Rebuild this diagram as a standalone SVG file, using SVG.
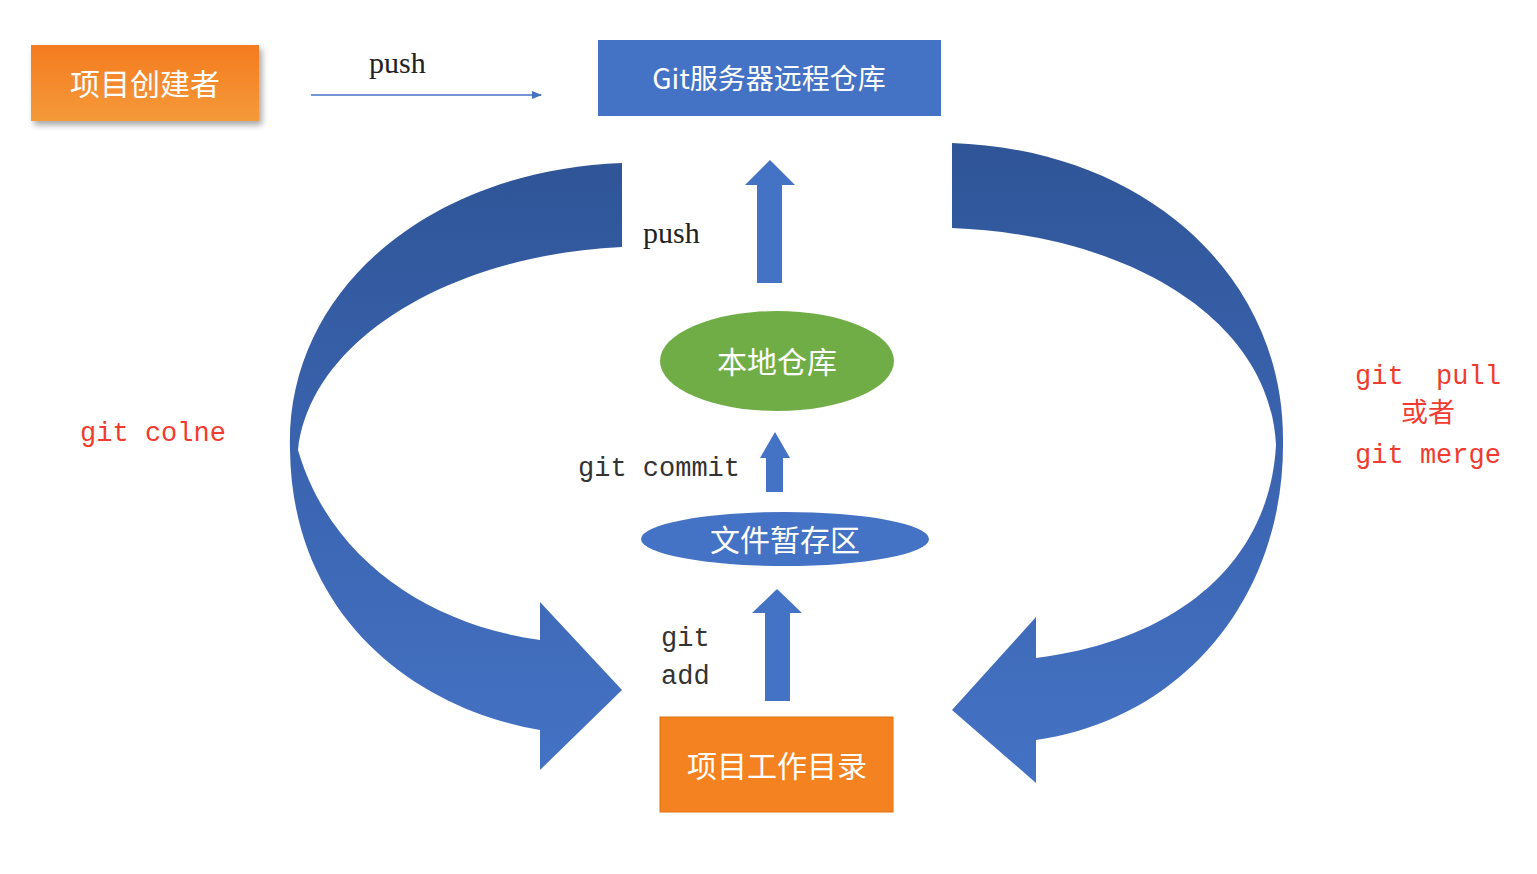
<svg xmlns="http://www.w3.org/2000/svg" width="1537" height="874" viewBox="0 0 1537 874">
<defs>
<linearGradient id="band" x1="0" y1="0" x2="0" y2="1"><stop offset="0" stop-color="#2F5597"/><stop offset="0.45" stop-color="#3A63AE"/><stop offset="1" stop-color="#4472C4"/></linearGradient>
<linearGradient id="org" x1="0" y1="0" x2="0" y2="1"><stop offset="0" stop-color="#F47B20"/><stop offset="1" stop-color="#F59A3A"/></linearGradient>
<filter id="sh" x="-10%" y="-10%" width="130%" height="140%"><feDropShadow dx="3" dy="4" stdDeviation="3" flood-color="#000" flood-opacity="0.35"/></filter>
<marker id="ah" markerWidth="10" markerHeight="8" refX="9" refY="4" orient="auto" markerUnits="userSpaceOnUse"><path d="M0,0 L10,4 L0,8 Z" fill="#4472C4"/></marker>
</defs>
<style>
.cn{font-family:"Noto Sans CJK SC","Noto Sans",sans-serif;fill:#fff;font-size:30px;text-anchor:middle}
.sf{font-family:"Liberation Serif",serif;font-size:30px;fill:#222}
.mono{font-family:"Liberation Mono",monospace;font-size:27px;fill:#333}
.red{font-family:"Liberation Mono","Noto Sans CJK SC",monospace;font-size:27px;fill:#F03C30;text-anchor:middle}
.up{fill:#4472C4}
</style>
<rect width="1537" height="874" fill="#fff"/>
<g id="connectors">
<path d="M311,95 L541,95" stroke="#4472C4" stroke-width="1.5" marker-end="url(#ah)"/>
<path id="leftArc" fill="url(#band)" d="M622,163 L622,247 C450,255 310,340 298,450 C330,560 430,625 540,640 L540,602 L622,690 L540,770 L540,730 C420,710 292,620 290,450 C285,290 430,170 622,163 Z"/>
<path id="rightArc" fill="url(#band)" d="M952,143 C1150,150 1284,280 1283,440 C1285,600 1180,720 1036,740 L1036,783 L952,710 L1036,617 L1036,658 C1180,640 1270,560 1276,445 C1270,320 1130,235 952,228 Z"/>
<path class="up" d="M757,283 L757,185 L745,185 L770,160 L795,185 L782,185 L782,283 Z"/>
<path class="up" d="M766,492 L766,458 L760,458 L775,432 L790,458 L783,458 L783,492 Z"/>
<path class="up" d="M765,701 L765,613 L752,613 L777,589 L802,613 L790,613 L790,701 Z"/>
</g>
<g id="creator"><rect x="31" y="45" width="228" height="76" fill="url(#org)" filter="url(#sh)"/><text class="cn" x="145" y="95">项目创建者</text></g>
<g id="server"><rect x="598" y="40" width="343" height="76" fill="#4472C4"/><text class="cn" x="769" y="89" style="font-size:28px">Git服务器远程仓库</text></g>
<g id="local"><ellipse cx="777" cy="361" rx="117" ry="50" fill="#70AD47"/><text class="cn" x="777" y="373">本地仓库</text></g>
<g id="stage"><ellipse cx="785" cy="539" rx="144" ry="27" fill="#4472C4"/><text class="cn" x="785" y="551">文件暂存区</text></g>
<g id="work"><rect x="660" y="717" width="233" height="95" fill="#F58220" stroke="#E07010"/><text class="cn" x="777" y="777">项目工作目录</text></g>
<g id="labels">
<text class="sf" x="369" y="73">push</text>
<text class="sf" x="643" y="243">push</text>
<text class="mono" x="578" y="476">git commit</text>
<text class="mono" x="661" y="646">git</text>
<text class="mono" x="661" y="684">add</text>
<text class="red" x="153" y="441">git colne</text>
<text class="red" x="1428" y="384">git&#160; pull</text>
<text class="red" x="1428" y="422">或者</text>
<text class="red" x="1428" y="463">git merge</text>
</g>
</svg>
